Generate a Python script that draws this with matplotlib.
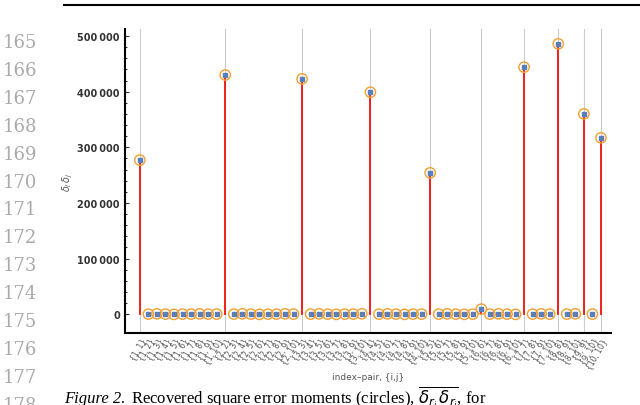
import matplotlib
matplotlib.use('Agg')
import matplotlib.pyplot as plt
from matplotlib.ticker import FuncFormatter

n = 10
pairs = [(i, j) for i in range(1, n + 1) for j in range(i, n + 1)]
pair_labels = ['{%d, %d}' % p for p in pairs]

# diagonal values; off-diagonal ~ 0
diag_values = [277000, 430000, 423000, 399000, 254000, 9000, 444000, 486000, 360000, 317000]
offdiag_values = [0, 500, 0, -500, 0, 0, 500, 0, 0]  # small jitter as seen

values = []
for (i, j) in pairs:
    if i == j:
        values.append(diag_values[i - 1])
    else:
        values.append(offdiag_values[(j - i - 1) % len(offdiag_values)])

fig = plt.figure(figsize=(6.4, 4.06), dpi=100)
ax = fig.add_axes([0.195, 0.177, 0.76, 0.749])

xs = list(range(len(pairs)))
for x, (i, j), v in zip(xs, pairs, values):
    if i == j:
        ax.axvline(x, color='#cccccc', lw=0.8, zorder=0)
        ax.plot([x, x], [0, v], color='#ee1111', lw=1.3, zorder=1)
ax.scatter(xs, values, s=55, facecolors='none', edgecolors='#f0a030', linewidths=1.0, zorder=3)
ax.scatter(xs, values, s=12, marker='s', color='#5b7db8', zorder=4)

ax.set_xlim(-1.76, 55.2)
ax.set_ylim(-34200, 512600)
ax.set_yticks([0, 100000, 200000, 300000, 400000, 500000])
ax.yaxis.set_major_formatter(FuncFormatter(lambda v, p: f'{int(v):,}'.replace(',', '\u2009')))
ax.set_yticks(range(0, 500001, 20000), minor=True)
ax.set_xticks(xs)
ax.set_xticklabels(pair_labels, rotation=60, ha='right', rotation_mode='anchor',
                   fontsize=5.5, color='#555555')
ax.tick_params(axis='x', length=0, pad=2)
ax.tick_params(axis='y', labelsize=7, colors='#333333', direction='in', length=3)
ax.tick_params(axis='y', which='minor', direction='in', length=1.5)
for t in ax.get_yticklabels():
    t.set_fontweight('bold')
for s in ['top', 'right']:
    ax.spines[s].set_visible(False)
for s in ['left', 'bottom']:
    ax.spines[s].set_linewidth(1.5)
ax.set_ylabel(r'$\delta_i\,\delta_j$', fontsize=7, color='#555555', labelpad=2)
ax.set_xlabel('index\u2013pair, {i,j}', fontsize=6.5, color='#555555', labelpad=2)

# page context around the chart
fig.add_artist(plt.Line2D([0.1, 1.0], [0.985, 0.985], color='black', lw=1.5))
for k, num in enumerate(range(165, 179)):
    fig.text(0.005, 1 - (43 + k * 27.9) / 406, str(num), fontsize=13, color='#aaaaaa',
             family='DejaVu Serif', va='center')
fig.text(0.1, 1 - 399 / 406, 'Figure 2.', fontsize=12, style='italic',
         family='Liberation Serif', va='center')
fig.text(0.205, 1 - 399 / 406,
         r'Recovered square error moments (circles), $\overline{\delta_{r_i}\,\delta_{r_j}}$, for',
         fontsize=12, family='Liberation Serif', va='center')

fig.savefig('out.png', dpi=100)
